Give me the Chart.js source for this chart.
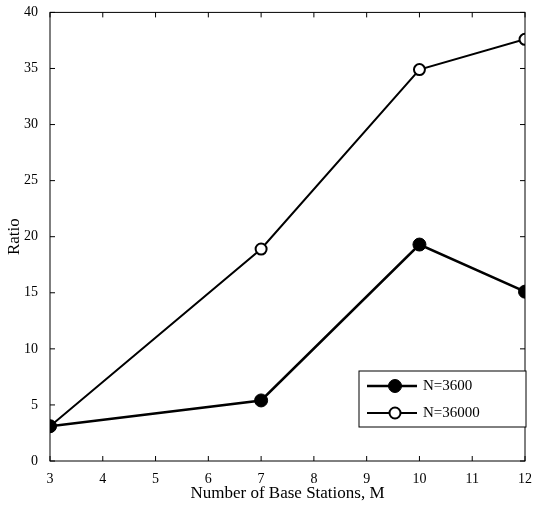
<!DOCTYPE html>
<html>
<head>
<meta charset="utf-8">
<script src="https://cdn.jsdelivr.net/npm/chart.js@4/dist/chart.umd.min.js"></script>
<style>
  body { margin: 0; background: #fff; }
  #wrap { width: 534px; height: 508px; }
</style>
</head>
<body>
<div id="wrap"><canvas id="c"></canvas></div>
<script>
const stations = [3, 7, 10, 12];
const ratio3600 = [3.1, 5.4, 19.3, 15.1];
const ratio36000 = [3.1, 18.9, 34.9, 37.6];
const xTicks = [3, 4, 5, 6, 7, 8, 9, 10, 11, 12];

const FONT = "'Liberation Serif', 'Times New Roman', serif";

// box, inward ticks and legend, matlab style
const framePlugin = {
    id: 'frame',
    afterDraw(chart) {
        const {ctx, chartArea: a, scales} = chart;
        ctx.save();
        ctx.strokeStyle = '#000';
        ctx.lineWidth = 1;
        ctx.strokeRect(a.left, a.top, a.right - a.left, a.bottom - a.top);
        ctx.beginPath();
        xTicks.forEach(v => {
            const x = scales.x.getPixelForValue(v);
            ctx.moveTo(x, a.bottom); ctx.lineTo(x, a.bottom - 5);
            ctx.moveTo(x, a.top); ctx.lineTo(x, a.top + 5);
        });
        for (let v = 0; v <= 40; v += 5) {
            const y = scales.y.getPixelForValue(v);
            ctx.moveTo(a.left, y); ctx.lineTo(a.left + 5, y);
            ctx.moveTo(a.right, y); ctx.lineTo(a.right - 5, y);
        }
        ctx.stroke();

        // legend
        const bx = 359, by = 371, bw = 167, bh = 56;
        ctx.fillStyle = '#fff';
        ctx.fillRect(bx, by, bw, bh);
        ctx.strokeRect(bx, by, bw, bh);
        ctx.font = '15px ' + FONT;
        ctx.textBaseline = 'middle';
        chart.data.datasets.forEach((ds, i) => {
            const y = by + 15 + i * 27;
            ctx.lineWidth = ds.borderWidth;
            ctx.beginPath(); ctx.moveTo(bx + 8, y); ctx.lineTo(bx + 58, y); ctx.stroke();
            ctx.beginPath(); ctx.arc(bx + 36, y, ds.pointRadius, 0, Math.PI * 2);
            ctx.fillStyle = ds.pointBackgroundColor; ctx.fill();
            ctx.lineWidth = ds.pointBorderWidth; ctx.stroke();
            ctx.fillStyle = '#000';
            ctx.fillText(ds.label, bx + 64, y);
        });
        ctx.restore();
    }
};

new Chart(document.getElementById('c'), {
    type: 'line',
    data: {
        datasets: [{
            label: 'N=3600',
            data: stations.map((x, i) => ({x, y: ratio3600[i]})),
            borderColor: '#000', borderWidth: 2.5,
            pointRadius: 6.5, pointBackgroundColor: '#000', pointBorderColor: '#000', pointBorderWidth: 1,
            tension: 0
        }, {
            label: 'N=36000',
            data: stations.map((x, i) => ({x, y: ratio36000[i]})),
            borderColor: '#000', borderWidth: 2,
            pointRadius: 5.5, pointBackgroundColor: '#fff', pointBorderColor: '#000', pointBorderWidth: 2,
            tension: 0
        }]
    },
    options: {
        responsive: true,
        maintainAspectRatio: false,
        animation: false,
        layout: {padding: {top: 4, right: 7, left: 0, bottom: 0}},
        plugins: {legend: {display: false}, tooltip: {enabled: false}},
        scales: {
            x: {
                type: 'linear', min: 3, max: 12,
                afterBuildTicks: s => { s.ticks = xTicks.map(v => ({value: v})); },
                afterFit: s => { s.height = 47; },
                grid: {display: false}, border: {display: false},
                ticks: {color: '#000', font: {family: FONT, size: 14}, padding: 2, maxRotation: 0},
                title: {display: true, text: 'Number of Base Stations, M', color: '#000',
                        font: {family: FONT, size: 17}, padding: {top: 0}}
            },
            y: {
                min: 0, max: 40,
                afterFit: s => { s.width = 50; },
                grid: {display: false}, border: {display: false},
                ticks: {stepSize: 5, color: '#000', font: {family: FONT, size: 14}, padding: 4},
                title: {display: true, text: 'Ratio', color: '#000',
                        font: {family: FONT, size: 17}, padding: {bottom: 2}}
            }
        }
    },
    plugins: [framePlugin]
});
</script>
</body>
</html>
